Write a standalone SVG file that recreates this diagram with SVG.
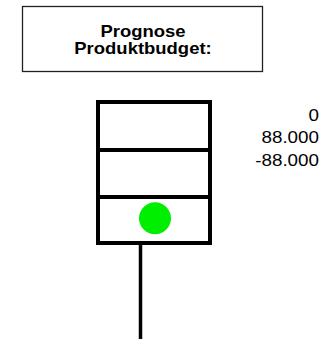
<svg xmlns="http://www.w3.org/2000/svg" width="322" height="339" viewBox="0 0 322 339">
<style>
.title{font-family:"Liberation Sans",Arial,sans-serif;font-weight:bold;font-size:16.5px;fill:#000}
.num{font-family:"Liberation Sans",Arial,sans-serif;font-size:16.5px;fill:#000}
.thick{fill:none;stroke:#000;stroke-width:4}
</style>
<rect width="322" height="339" fill="#fff"/>
<g id="title">
<rect x="22.5" y="6.5" width="240" height="65" fill="#fff" stroke="#222" stroke-width="1.3"/>
<g transform="translate(143,0) scale(1.12,1)">
<text class="title" x="0" y="36.7" text-anchor="middle">Prognose</text>
<text class="title" x="0" y="54" text-anchor="middle">Produktbudget:</text>
</g>
</g>
<g id="stack">
<rect class="thick" x="98" y="102" width="112" height="141"/>
<line class="thick" x1="98" y1="150" x2="210" y2="150"/>
<line class="thick" x1="98" y1="197" x2="210" y2="197"/>
</g>
<g id="indicator">
<circle cx="155" cy="218.3" r="16" fill="#00ee00"/>
</g>
<g id="values" transform="translate(319,0) scale(1.14,1)">
<text class="num" x="0" y="120.7" text-anchor="end">0</text>
<text class="num" x="0" y="143.3" text-anchor="end">88.000</text>
<text class="num" x="0" y="166" text-anchor="end">-88.000</text>
</g>
<g id="connectors">
<line x1="140.5" y1="245" x2="140.5" y2="339" stroke="#000" stroke-width="3.5"/>
</g>
</svg>
